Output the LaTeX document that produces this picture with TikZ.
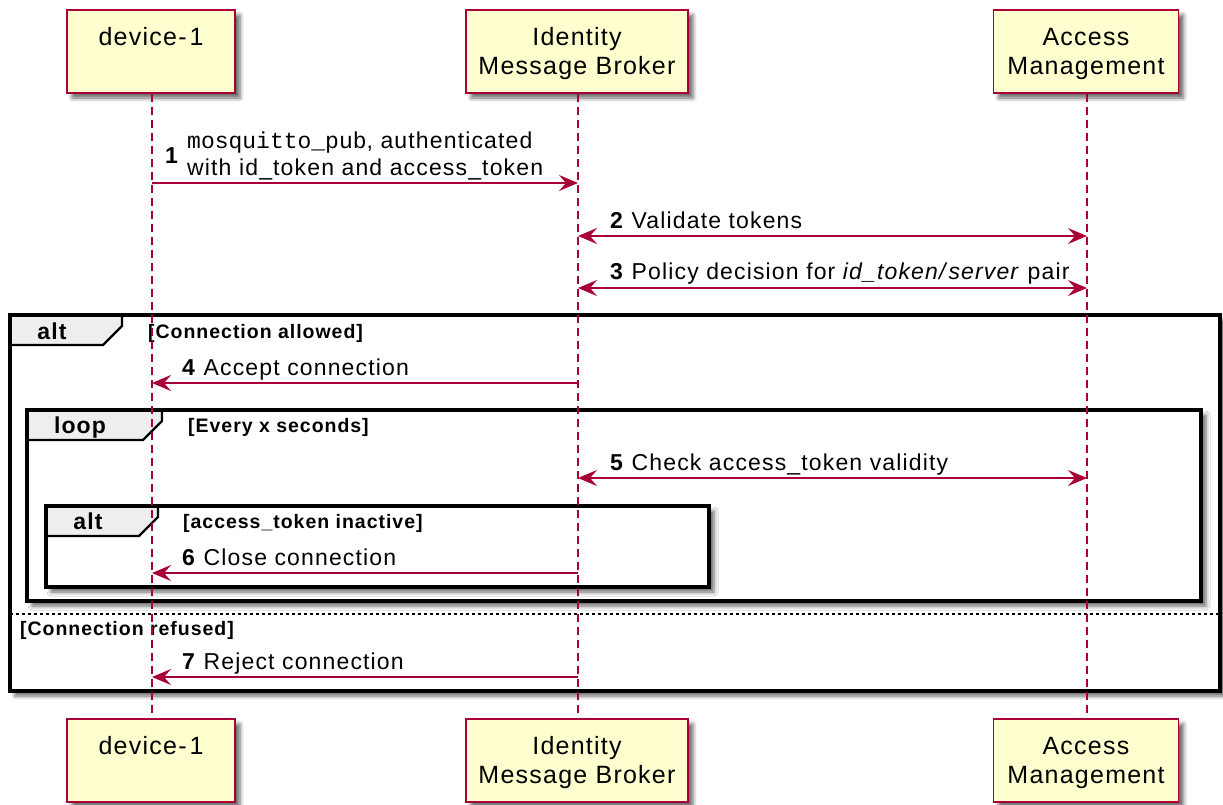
\documentclass[tikz,border=0pt]{standalone}
\usepackage{fontspec}
\setmainfont{Liberation Sans}[LetterSpace=5]
\newfontfamily\codefont{Liberation Mono}
\usetikzlibrary{arrows.meta,shadows.blur}
\definecolor{umlred}{HTML}{A80036}
\definecolor{umlyellow}{HTML}{FEFECE}
\definecolor{tabgray}{HTML}{EEEEEE}
\newcommand\actorsize{\fontsize{25}{29}\selectfont}
\newcommand\msgsize{\fontsize{23}{27}\selectfont}
\newcommand\guardsize{\fontsize{19.5}{23}\selectfont\bfseries}
\newcommand\tabsize{\fontsize{23}{27}\selectfont\bfseries}
\begin{document}
\begin{tikzpicture}[x=1pt,y=-1pt,
  softshadow/.style={blur shadow={shadow xshift=5pt, shadow yshift=-5pt,
      shadow blur radius=4pt, shadow opacity=60}},
  actor/.style={draw=umlred, fill=umlyellow, line width=1.8pt, softshadow,
      minimum height=83pt, inner sep=0pt},
  actortext/.style={align=center, font=\actorsize, inner sep=0pt, yshift=-3pt},
  lifeline/.style={draw=umlred, line width=1.3pt, dash pattern=on 8pt off 5pt},
  tip/.tip={Stealth[length=19pt, width=16pt, inset=7pt]},
  msg/.style={draw=umlred, line width=1.5pt, -tip},
  dmsg/.style={draw=umlred, line width=1.5pt, tip-tip},
  msglabel/.style={anchor=base west, inner sep=0pt, font=\msgsize},
  guard/.style={anchor=base west, inner sep=0pt, font=\guardsize},
  tablabel/.style={anchor=base, inner sep=0pt, font=\tabsize},
  framefill/.style={fill=white, softshadow},
  frameline/.style={draw=black, line width=3.2pt},
  tabshape/.style={fill=tabgray, draw=black, line width=2.4pt, line join=miter},
]
\useasboundingbox (0,0) rectangle (1223,804);

% ---- combined fragments ----
% outer alt
\path[framefill] (10,315) rectangle (1220,691);
\filldraw[tabshape] (10,315) -- (122,315) -- (122,326) -- (103,345) -- (10,345) -- cycle;
\draw[frameline] (10,315) rectangle (1220,691);
% loop
\path[framefill] (27,410) rectangle (1201,601);
\filldraw[tabshape] (27,410) -- (162,410) -- (162,421) -- (143,440) -- (27,440) -- cycle;
\draw[frameline] (27,410) rectangle (1201,601);
% inner alt
\path[framefill] (46,506) rectangle (709,587);
\filldraw[tabshape] (46,506) -- (158,506) -- (158,517) -- (139,536) -- (46,536) -- cycle;
\draw[frameline] (46,506) rectangle (709,587);
% else separator
\draw[black, line width=1.5pt, dash pattern=on 3pt off 3pt] (10,614) -- (1220,614);

\node[tablabel] (altA) at (52,339) {alt};
\node[tablabel] (loopA) at (80,433) {loop};
\node[tablabel] (altB) at (88,529) {alt};
\node[guard] (g1) at (148,338) {[Connection allowed]};
\node[guard] (g2) at (188,432) {[Every x seconds]};
\node[guard] (g3) at (183,528) {[access\_token inactive]};
\node[guard] (g4) at (20,635) {[Connection refused]};

% ---- participants ----
\node[actor, minimum width=168pt] (devT) at (151,51.5) {};
\node[actor, minimum width=222pt] (imbT) at (577,51.5) {};
\node[actor, minimum width=185pt] (amT)  at (1086,51.5) {};
\node[actor, minimum width=168pt] (devB) at (151,760.5) {};
\node[actor, minimum width=222pt] (imbB) at (577,760.5) {};
\node[actor, minimum width=185pt] (amB)  at (1086,760.5) {};
\node[actortext] (devTt) at (devT) {device-\kern3pt 1\strut\\\strut};
\node[actortext] (imbTt) at (imbT) {Identity\strut\\Message Broker\strut};
\node[actortext] (amTt)  at (amT) {Access\strut\\Management\strut};
\node[actortext] (devBt) at (devB) {device-\kern3pt 1\strut\\\strut};
\node[actortext] (imbBt) at (imbB) {Identity\strut\\Message Broker\strut};
\node[actortext] (amBt)  at (amB) {Access\strut\\Management\strut};

% ---- lifelines ----
\draw[lifeline] (devT.south -| 152,0) -- (devB.north -| 152,0);
\draw[lifeline] (imbT.south -| 578,0) -- (imbB.north -| 578,0);
\draw[lifeline] (amT.south -| 1087,0) -- (amB.north -| 1087,0);

% ---- message anchors on the lifelines ----
\coordinate (d1) at (152,183);  \coordinate (i1) at (578,183);
\coordinate (i2) at (578,236);  \coordinate (a2) at (1087,236);
\coordinate (i3) at (578,288);  \coordinate (a3) at (1087,288);
\coordinate (d4) at (152,383);  \coordinate (i4) at (578,383);
\coordinate (i5) at (578,478);  \coordinate (a5) at (1087,478);
\coordinate (d6) at (152,573);  \coordinate (i6) at (578,573);
\coordinate (d7) at (152,677);  \coordinate (i7) at (578,677);

% ---- messages ----
\draw[msg] (d1) -- (i1);
\node[msglabel, font=\msgsize\bfseries] (n1) at (165,163) {1};
\node[msglabel] (t1a) at (187,148) {{\codefont mosquitto\_pub}, authenticated};
\node[msglabel] (t1b) at (187,175) {with id\_token and access\_token};

\draw[dmsg] (i2) -- (a2);
\node[msglabel] (t2) at (610,228) {\textbf{2} Validate tokens};

\draw[dmsg] (i3) -- (a3);
\node[msglabel] (t3) at (610,279) {\textbf{3} Policy decision for \textit{id\_token/\kern3pt server} pair};

\draw[msg] (i4) -- (d4);
\node[msglabel] (t4) at (182,375) {\textbf{4} Accept connection};

\draw[dmsg] (i5) -- (a5);
\node[msglabel] (t5) at (610,470) {\textbf{5} Check access\_token validity};

\draw[msg] (i6) -- (d6);
\node[msglabel] (t6) at (182,565) {\textbf{6} Close connection};

\draw[msg] (i7) -- (d7);
\node[msglabel] (t7) at (182,669) {\textbf{7} Reject connection};
\end{tikzpicture}
\end{document}
